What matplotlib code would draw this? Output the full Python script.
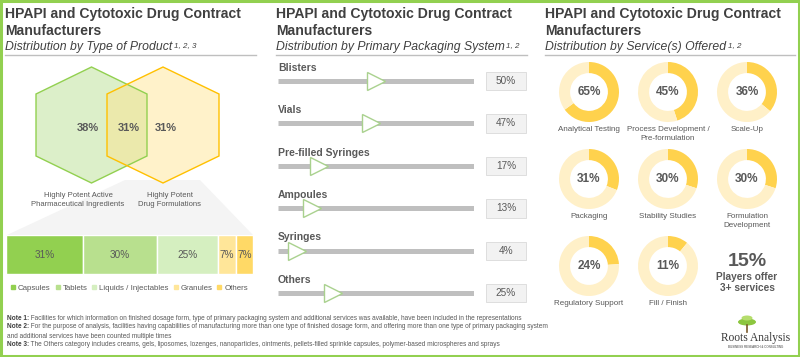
import matplotlib
matplotlib.use("Agg")
import matplotlib.pyplot as plt
from matplotlib.patches import Polygon, Rectangle, Ellipse
from matplotlib.lines import Line2D
import numpy as np

plt.rcParams['font.family'] = ['Liberation Sans', 'DejaVu Sans']

# ---- data ----
title = "HPAPI and Cytotoxic Drug Contract\nManufacturers"
subtitles = ["Distribution by Type of Product", "Distribution by Primary Packaging System",
             "Distribution by Service(s) Offered"]
sub_notes = ["1, 2, 3", "1, 2", "1, 2"]

venn_labels = ["Highly Potent Active\nPharmaceutical Ingredients", "Highly Potent\nDrug Formulations"]
venn_values = [38, 31, 31]   # API only, both, formulations only

dosage_forms = ["Capsules", "Tablets", "Liquids / Injectables", "Granules", "Others"]
dosage_share = [31, 30, 25, 7, 7]
dosage_colors = ["#92d050", "#b8e08e", "#d5efc0", "#ffe699", "#ffd966"]

packaging = ["Blisters", "Vials", "Pre-filled Syringes", "Ampoules", "Syringes", "Others"]
packaging_share = [50, 47, 17, 13, 4, 25]

services = ["Analytical Testing", "Process Development /\nPre-formulation", "Scale-Up",
            "Packaging", "Stability Studies", "Formulation\nDevelopment",
            "Regulatory Support", "Fill / Finish"]
services_share = [65, 45, 36, 31, 30, 30, 24, 11]
multi_service = 15

notes = [("Note 1:", " Facilities for which information on finished dosage form, type of primary packaging system and additional services was available, have been included in the representations"),
         ("Note 2:", " For the purpose of analysis, facilities having capabilities of manufacturing more than one type of finished dosage form, and offering more than one type of primary packaging system"),
         ("", "and additional services have been counted multiple times"),
         ("Note 3:", " The Others category includes creams, gels, liposomes, lozenges, nanoparticles, ointments, pellets-filled sprinkle capsules, polymer-based microspheres and sprays")]

DARK = "#404040"
GREY = "#595959"
W, H = 800, 357

fig = plt.figure(figsize=(8, 3.57), dpi=100)
bg = fig.add_axes([0, 0, 1, 1])
bg.set_xlim(0, W)
bg.set_ylim(H, 0)
bg.axis("off")


def px_axes(x0, y0, w, h):
    ax = fig.add_axes([x0 / W, 1 - (y0 + h) / H, w / W, h / H])
    ax.patch.set_alpha(0)
    return ax


# ---- panel headers ----
for x0, x1, sub, sn in zip([5, 276, 545], [256, 527, 795], subtitles, sub_notes):
    bg.text(x0, 7, title, fontsize=10.1, fontweight="bold", color=DARK, va="top", linespacing=1.25)
    t = bg.text(x0, 53, sub, fontsize=8.8, style="italic", color=DARK, va="bottom")
    bg.annotate(sn, xy=(1, 1), xycoords=t, xytext=(1, -1), textcoords="offset points",
                fontsize=5.8, style="italic", color=DARK, va="top")
    bg.plot([x0, x1], [55, 55], color="#bfbfbf", lw=1)

# ---- panel 1: venn of hexagons ----
def hexagon(cx, cy, hw, hh, sh):
    return [(cx, cy - hh), (cx + hw, cy - sh), (cx + hw, cy + sh),
            (cx, cy + hh), (cx - hw, cy + sh), (cx - hw, cy - sh)]

bg.add_patch(Polygon([(125, 180), (200, 180), (253, 235), (7, 235)], closed=True,
                     fc="#f4f4f4", ec="none", zorder=1))
hex_a = hexagon(91.5, 125, 55.5, 58, 31)
hex_b = hexagon(163, 125, 56, 58, 31)
for pts in (hex_a, hex_b):
    bg.add_patch(Polygon(pts, closed=True, fc="white", ec="none", zorder=2))
bg.add_patch(Polygon(hex_a, closed=True, fc="#c5e5a5", alpha=0.6, ec="none", zorder=3))
bg.add_patch(Polygon(hex_b, closed=True, fc="#ffe38a", alpha=0.45, ec="none", zorder=3))
bg.add_patch(Polygon(hex_a, closed=True, fc="none", ec="#92d050", lw=1, zorder=4))
bg.add_patch(Polygon(hex_b, closed=True, fc="none", ec="#ffc000", lw=1, zorder=4))
for x, v in zip([88, 129, 166], venn_values):
    bg.text(x, 128, f"{v}%", fontsize=8, fontweight="bold", color=GREY,
            ha="center", va="center", zorder=5)
for x, lab in zip([78, 170], venn_labels):
    bg.text(x, 192, lab, fontsize=5.5, color=GREY, ha="center", va="top",
            linespacing=1.35, zorder=5)

# stacked bar
axb = px_axes(6, 235, 247, 39)
left = np.concatenate([[0], np.cumsum(dosage_share)[:-1]])
axb.barh([0], dosage_share, left=left, height=1, color=dosage_colors,
         edgecolor="white", linewidth=1)
for l, v in zip(left, dosage_share):
    axb.text(l + v / 2, 0, f"{v}%", ha="center", va="center", fontsize=7.2, color=GREY)
axb.set_xlim(0, sum(dosage_share))
axb.set_ylim(-0.5, 0.5)
axb.axis("off")
handles = [Line2D([], [], marker="s", ls="", ms=2.5, color=c) for c in dosage_colors]
axb.legend(handles, dosage_forms, loc="upper center", bbox_to_anchor=(0.5, -0.27),
           ncol=5, frameon=False, fontsize=5.7, handlelength=0.5, handletextpad=0.35,
           columnspacing=0.65, labelcolor=GREY, borderaxespad=0, borderpad=0)

# ---- panel 2: sliders ----
row_h = 42.4
axs = px_axes(278, 81 - row_h / 2, 196, row_h * 6)
rows = np.arange(len(packaging))
for r in rows:
    axs.axhline(r, xmin=0, xmax=1, color="#bfbfbf", lw=3.6, solid_capstyle="butt", zorder=1)
axs.plot(packaging_share, rows, ls="", marker=">", ms=13.5, mfc="white",
         mec="#a9d18e", mew=1, zorder=3)
for r, lab, v in zip(rows, packaging, packaging_share):
    axs.text(0, r - 0.31, lab, fontsize=7.5, fontweight="bold", color=GREY, va="center",
             transform=axs.get_yaxis_transform())
    axs.add_patch(Rectangle((1.061, r - 0.21), 0.204, 0.43, transform=axs.get_yaxis_transform(),
                            fc="#f2f2f2", ec="#d9d9d9", lw=0.6, clip_on=False))
    axs.text(1.163, r, f"{v}%", transform=axs.get_yaxis_transform(), ha="center",
             va="center", fontsize=7.2, color=GREY)
axs.set_xlim(-7, 107)
axs.set_ylim(len(rows) - 0.5, -0.5)
axs.axis("off")

# ---- panel 3: donuts ----
cxs = [589, 668, 747]
cys = [92, 179, 266]
for i, (lab, v) in enumerate(zip(services, services_share)):
    cx, cy = cxs[i % 3], cys[i // 3]
    axd = px_axes(cx - 30, cy - 30, 60, 60)
    axd.pie([v, 100 - v], colors=["#ffd24d", "#fff0c8"], startangle=90, counterclock=False,
            radius=1, wedgeprops=dict(width=0.37, linewidth=0))
    axd.set_xlim(-1, 1)
    axd.set_ylim(-1, 1)
    axd.text(0, 0, f"{v}%", ha="center", va="center", fontsize=8.5, fontweight="bold", color=GREY)
    bg.text(cx, cy + 34, lab, ha="center", va="top", fontsize=5.8, color=GREY, linespacing=1.35)
bg.text(747, 261, f"{multi_service}%", ha="center", va="center", fontsize=14,
        fontweight="bold", color=GREY)
bg.text(747, 282.5, "Players offer\n3+ services", ha="center", va="center", fontsize=7.3,
        fontweight="bold", color=GREY, linespacing=1.15)

# ---- notes ----
for k, (b, rest) in enumerate(notes):
    y = 318 + 9 * k
    if b:
        tb = bg.text(7, y, b, fontsize=4.7, fontweight="bold", color=DARK, va="center")
        bg.annotate(rest, xy=(1, 0), xycoords=tb, fontsize=4.7, color=GREY, va="bottom")
    else:
        bg.text(7, y, rest, fontsize=4.7, color=GREY, va="center")

# ---- logo ----
bg.add_patch(Ellipse((747, 322), 18, 7, fc="#8cc63f", ec="none"))
bg.add_patch(Ellipse((747, 318), 11, 5, fc="#b5dd6c", ec="none"))
bg.plot([747, 747], [325, 332], color="#7a5a2a", lw=1.2)
bg.text(756, 338, "Roots Analysis", ha="center", va="center", fontsize=8.3,
        family=["Liberation Serif", "DejaVu Serif"], color="#3a3a3a")
bg.text(756, 347, "BUSINESS RESEARCH & CONSULTING", ha="center", va="center",
        fontsize=2.2, color="#3a3a3a")

# ---- frame ----
bg.add_patch(Rectangle((1, 1), W - 2, H - 2, fc="none", ec="#92d050", lw=2.2, zorder=10))

fig.savefig("out.png", dpi=100)
